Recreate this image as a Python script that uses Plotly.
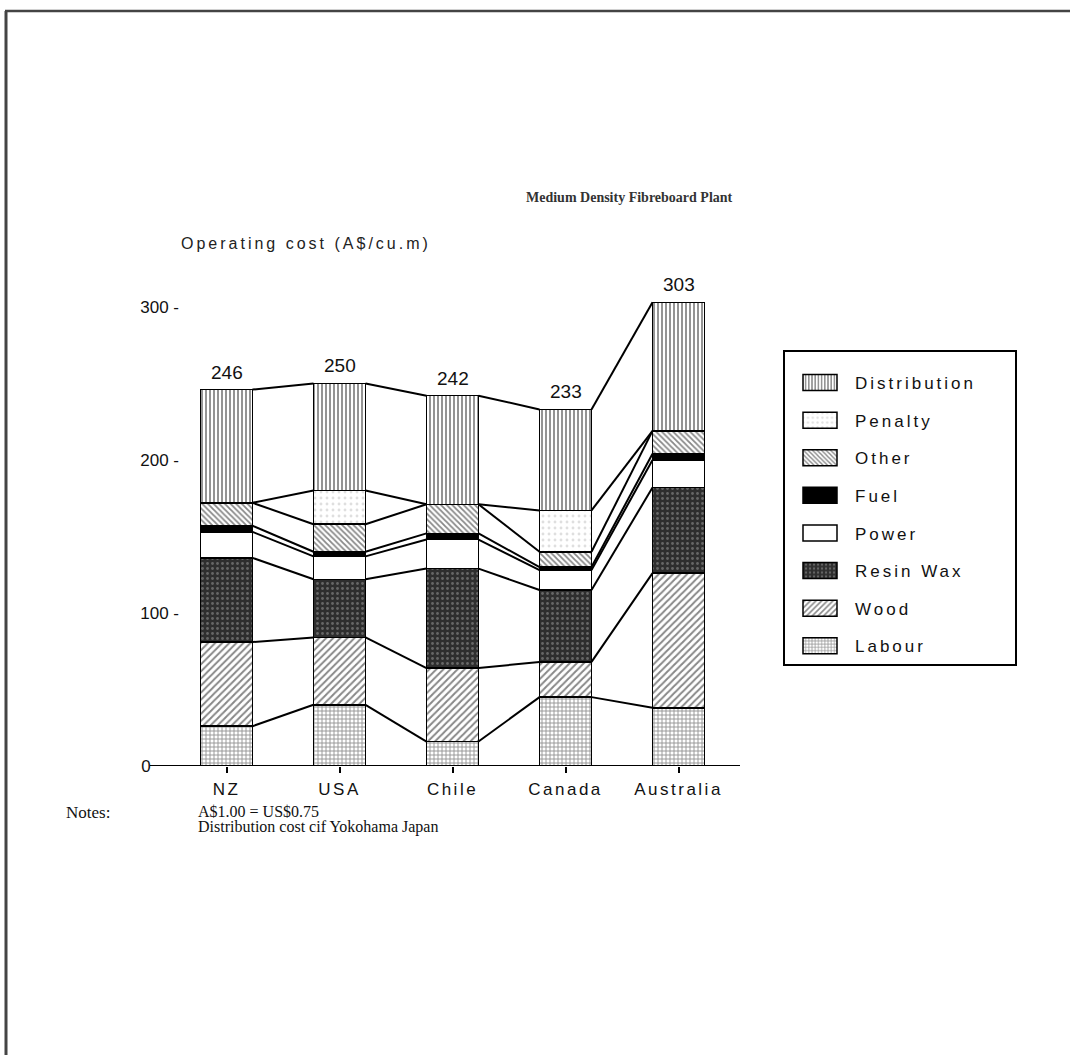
import numpy as np
import plotly.graph_objects as go

# Operating cost of a medium density fibreboard plant (A$ per cubic metre)
countries = ["NZ", "USA", "Chile", "Canada", "Australia"]

labour       = [26, 40, 16, 45, 38]
wood         = [55, 44, 48, 23, 88]
resin_wax    = [55, 38, 65, 47, 56]
power        = [17, 15, 19, 13, 18]
fuel         = [4, 3, 4, 2, 4]
other        = [15, 18, 19, 10, 15]
penalty      = [0, 22, 0, 27, 0]
distribution = [74, 70, 71, 66, 84]

y_tick_vals = [0, 100, 200, 300]
y_tick_text = ["0" + "\u00a0" * 6, "100 -", "200 -", "300 -"]

SANS = "Liberation Sans"
SERIF = "Liberation Serif"
BAR_W = 0.46

# cost components from the bottom of each stack upwards, with their fills
components = [
    ("Labour", labour, dict(color="white", pattern=dict(shape="+", fgcolor="#222", bgcolor="white", size=4, solidity=0.4))),
    ("Wood", wood, dict(color="white", pattern=dict(shape="/", fgcolor="#111", bgcolor="white", size=5, solidity=0.4))),
    ("Resin Wax", resin_wax, dict(color="#333333", pattern=dict(shape=".", fgcolor="#a0a0a0", bgcolor="#2e2e2e", size=5, solidity=0.25))),
    ("Power", power, dict(color="white")),
    ("Fuel", fuel, dict(color="black")),
    ("Other", other, dict(color="white", pattern=dict(shape="\\", fgcolor="#111", bgcolor="white", size=4, solidity=0.45))),
    ("Penalty", penalty, dict(color="white", pattern=dict(shape=".", fgcolor="#c0c0c0", bgcolor="white", size=6, solidity=0.18))),
    ("Distribution", distribution, dict(color="white", pattern=dict(shape="|", fgcolor="#111", bgcolor="white", size=4, solidity=0.45))),
]

xpos = np.arange(len(countries))

fig = go.Figure()
n = len(components)
for k, (name, vals, marker) in enumerate(components):
    fig.add_trace(go.Bar(
        x=xpos, y=vals, name=name, width=BAR_W, legendgroup=name, legendrank=n - k,
        marker=dict(line=dict(color="black", width=1.5), **marker),
        hoverinfo="name+y",
    ))

# lines joining each stack boundary of neighbouring bars
cum = np.cumsum(np.array([c[1] for c in components], dtype=float), axis=0)
lx, ly = [], []
for level in cum:
    for i in range(len(countries) - 1):
        lx += [xpos[i] + BAR_W / 2, xpos[i + 1] - BAR_W / 2, None]
        ly += [level[i], level[i + 1], None]
fig.add_trace(go.Scatter(x=lx, y=ly, mode="lines", line=dict(color="black", width=2),
                         showlegend=False, hoverinfo="skip"))

totals = cum[-1]
for i, t in enumerate(totals):
    fig.add_annotation(x=xpos[i], y=t, text=f"{t:.0f}", showarrow=False,
                       yanchor="bottom", yshift=5, font=dict(family=SANS, size=19, color="#111"))

# plot area geometry (pixels) used for placing page furniture
L, R, T, B = 180, 330, 261, 289
W, H = 1070 - L - R, 1055 - T - B
def px(x):
    return (x - L) / W
def py(y):
    return (1055 - B - y) / H

fig.add_annotation(xref="paper", yref="paper", x=px(735), y=py(198), text="<b>Medium Density Fibreboard Plant</b>",
                   showarrow=False, xanchor="right", yanchor="middle",
                   font=dict(family=SERIF, size=14, color="#333"))
fig.add_annotation(xref="paper", yref="paper", x=px(306), y=py(243), text="Operating cost (A$/cu.m)",
                   showarrow=False, xanchor="center", yanchor="middle",
                   font=dict(family=SANS, size=16, color="#222"))
fig.add_annotation(xref="paper", yref="paper", x=px(64), y=py(812), text="Notes:",
                   showarrow=False, xanchor="left", yanchor="middle",
                   font=dict(family=SERIF, size=17, color="#111"))
fig.add_annotation(xref="paper", yref="paper", x=px(196), y=py(811), text="A$1.00 = US$0.75",
                   showarrow=False, xanchor="left", yanchor="middle",
                   font=dict(family=SERIF, size=16, color="#111"))
fig.add_annotation(xref="paper", yref="paper", x=px(196), y=py(827), text="Distribution cost cif Yokohama Japan",
                   showarrow=False, xanchor="left", yanchor="middle",
                   font=dict(family=SERIF, size=16, color="#111"))

# baseline, extended left under the zero label
fig.add_shape(type="line", xref="paper", yref="y", x0=px(150), x1=1, y0=0, y1=0,
              line=dict(color="black", width=2))
# frame edges
fig.add_shape(type="line", xref="paper", yref="paper", x0=px(5), x1=px(1070), y0=py(11), y1=py(11),
              line=dict(color="#444", width=2.5))
fig.add_shape(type="line", xref="paper", yref="paper", x0=px(6), x1=px(6), y0=py(11), y1=py(1055),
              line=dict(color="#444", width=3))

fig.update_layout(
    width=1070, height=1055,
    margin=dict(l=L, r=R, t=T, b=B),
    paper_bgcolor="white", plot_bgcolor="white",
    barmode="stack", bargap=0.5,
    font=dict(family=SANS, size=16, color="#111"),
    showlegend=True,
    legend=dict(
        x=px(783), y=py(350), xanchor="left", yanchor="top",
        traceorder="grouped", tracegroupgap=12.5,
        bordercolor="black", borderwidth=2, bgcolor="white",
        font=dict(family=SANS, size=17, color="#111"),
        itemwidth=60,
        title=dict(text="\u00a0" * 81, font=dict(size=10)),
    ),
    xaxis=dict(
        range=[-0.4115, 4.544], tickvals=list(xpos), ticktext=countries,
        showgrid=False, zeroline=False, showline=False,
        ticks="outside", ticklen=6, tickwidth=1.5, tickcolor="black",
        tickfont=dict(family=SANS, size=17, color="#111"), ticklabelstandoff=2,
    ),
    yaxis=dict(
        range=[0, 330], tickvals=y_tick_vals, ticktext=y_tick_text,
        showgrid=False, zeroline=False, showline=False, ticks="",
        tickfont=dict(family=SANS, size=17, color="#111"),
    ),
)

# widen the typewriter-style lettering and the legend keys once drawn
post = """
var gd = document.getElementById('{plot_id}');
gd.querySelectorAll('.legendtext').forEach(function(t){ t.style.letterSpacing = '3px'; });
gd.querySelectorAll('.xtick text').forEach(function(t){ t.style.letterSpacing = '2.5px'; });
gd.querySelectorAll('.annotation-text').forEach(function(t){
  if (t.textContent.indexOf('Operating') === 0) { t.style.letterSpacing = '3px'; }
});
gd.querySelectorAll('.legend .legendpoints path').forEach(function(p){
  p.setAttribute('d', 'M17,8H-17V-8H17Z');
});
"""

fig.write_html("out.html", post_script=post)
